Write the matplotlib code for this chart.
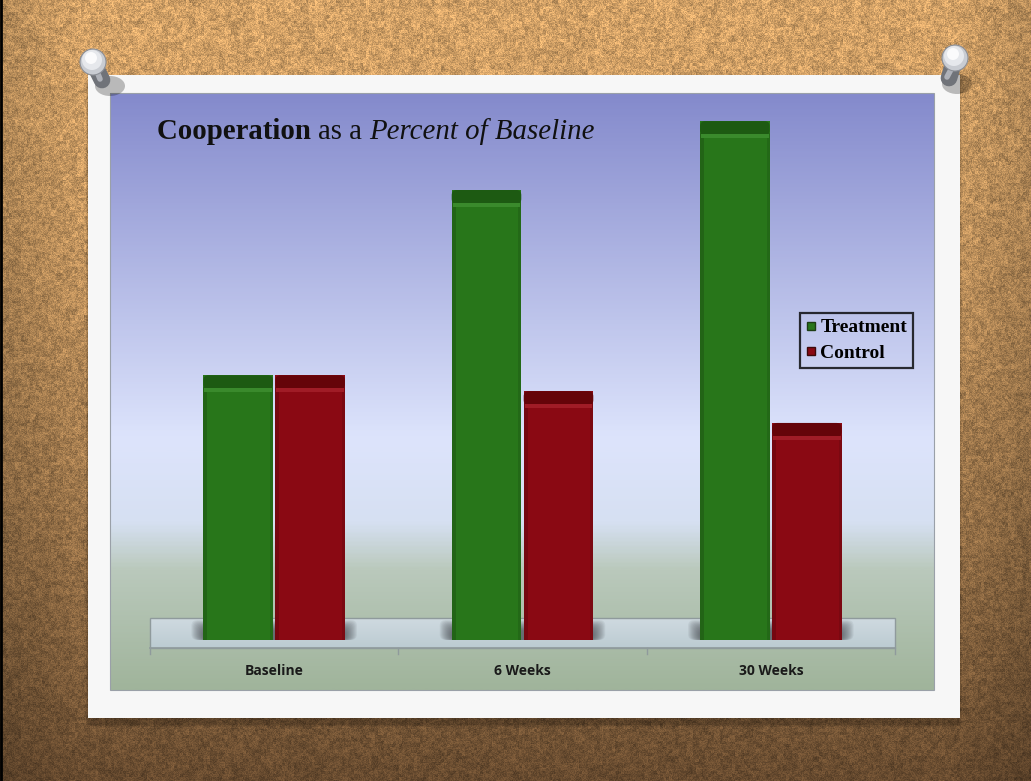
import numpy as np
import matplotlib
matplotlib.use("Agg")
import matplotlib.pyplot as plt
from matplotlib.colors import LinearSegmentedColormap
from matplotlib.patches import Rectangle, Ellipse, Circle, FancyBboxPatch
from matplotlib.lines import Line2D

# data
categories = ["Baseline", "6 Weeks", "30 Weeks"]
treatment = [100, 170, 196]
control = [100, 94, 82]

W, H = 1031, 781
fig = plt.figure(figsize=(W / 100, H / 100), dpi=100)

# background layer in pixel coordinates
bg = fig.add_axes([0, 0, 1, 1])
bg.set_axis_off()

# corkboard: deterministic hash noise, darker toward the bottom
yy, xx = np.mgrid[0:H, 0:W].astype(float)
def hnoise(a, b):
    v = np.sin(a * 12.9898 + b * 78.233) * 43758.5453
    return v - np.floor(v)
n = hnoise(xx, yy)
n2 = hnoise(np.floor(xx / 3), np.floor(yy / 3))
n3 = hnoise(np.floor(xx / 7), np.floor(yy / 7))
tex = 0.45 * n + 0.35 * n2 + 0.2 * n3
t = (yy / H) ** 1.6
top = np.array([215, 165, 105]) / 255
bot = np.array([105, 76, 48]) / 255
base = top[None, None, :] * (1 - t[..., None]) + bot[None, None, :] * t[..., None]
edge = np.minimum(xx / 80, 1) * np.minimum((W - xx) / 80, 1)
shade = 0.85 + 0.15 * edge
cork = base * (0.7 + 0.55 * tex[..., None]) * shade[..., None]
cork = np.clip(cork, 0, 1)
bg.imshow(cork, extent=(0, W, H, 0), origin="upper", aspect="auto", zorder=0)
bg.plot([1, 1], [0, H], color="black", lw=2, zorder=1)

# white frame with a soft shadow
for i, a in enumerate([0.10, 0.08, 0.06]):
    bg.add_patch(Rectangle((88 - 2 + i, 75 + 4 + i), 874, 646, facecolor="black",
                           alpha=a, lw=0, zorder=1))
bg.add_patch(Rectangle((88, 75), 872, 643, facecolor="#f7f7f7", lw=0, zorder=2))

# chart area gradient
stops = [(0.0, (132/255, 138/255, 204/255)),
         (0.58, (221/255, 228/255, 252/255)),
         (0.72, (214/255, 224/255, 242/255)),
         (0.80, (186/255, 201/255, 188/255)),
         (1.0, (160/255, 180/255, 155/255))]
cmap = LinearSegmentedColormap.from_list("chartbg", stops)
grad = np.linspace(0, 1, 400)[:, None]
bg.imshow(grad, cmap=cmap, extent=(110, 934, 690, 93), origin="upper",
          aspect="auto", zorder=3)
bg.add_patch(Rectangle((110, 93), 824, 597, facecolor="none", edgecolor="#9aa0a8",
                       lw=0.8, zorder=4))

# floor and axis line
floor = LinearSegmentedColormap.from_list("floor", ["#cfdae0", "#bccbd2"])
bg.imshow(np.linspace(0, 1, 50)[:, None], cmap=floor, extent=(150, 895, 648, 618),
          origin="upper", aspect="auto", zorder=4)
bg.add_patch(Rectangle((150, 618), 745, 30, facecolor="none", edgecolor="#8f9a9c",
                       lw=1.0, zorder=4))
bg.plot([150, 895], [648, 648], color="#8f9a9c", lw=1.2, zorder=5)
for xt in np.linspace(150, 895, len(categories) + 1):
    bg.plot([xt, xt], [648, 654], color="#8f9a9c", lw=1.0, zorder=5)

bg.set_xlim(0, W)
bg.set_ylim(H, 0)

# main chart axes
ax = fig.add_axes([150 / W, (H - 640) / H, 745 / W, 540 / H])
ax.patch.set_alpha(0)
for s in ax.spines.values():
    s.set_visible(False)
ax.set_xlim(-0.5, len(categories) - 0.5)
ax.set_ylim(0, 204)
ax.set_yticks([])

x = np.arange(len(categories))
bw = 0.28
off = 0.145
unit = 204 / 540          # data units per pixel (y)
xpx = 1 / 248             # data units per pixel (x)

# soft blurred shadows under each bar pair
for i in range(len(categories)):
    for k in range(14):
        g = k * xpx
        ax.add_patch(FancyBboxPatch((x[i] - off - bw / 2 - 12 * xpx + g, 0),
                                    2 * off + bw + 24 * xpx - 2 * g, (20 - k * 0.8) * unit,
                                    boxstyle="round,pad=0,rounding_size=%f" % (6 * xpx),
                                    mutation_aspect=unit / xpx,
                                    facecolor="#3a3d42", alpha=0.07, lw=0, zorder=1))

green, green_cap, green_hi = "#28761a", "#1d5a12", "#3a8a2c"
red, red_cap, red_hi = "#8a0913", "#650409", "#a01c26"

def draw_bars(xs, vals, main, cap, hi, label):
    ax.bar(xs, vals, width=bw, color=main, edgecolor="none", zorder=2, label=label)
    for xi, v in zip(xs, vals):
        ax.bar(xi - bw / 2 + 2 * xpx, v - 12 * unit, width=4 * xpx, color="black",
               alpha=0.15, edgecolor="none", zorder=3)
        ax.bar(xi + bw / 2 - 1.5 * xpx, v - 12 * unit, width=3 * xpx, color="black",
               alpha=0.10, edgecolor="none", zorder=3)
        ax.add_patch(FancyBboxPatch((xi - bw / 2, v - 14 * unit), bw, 14 * unit,
                                    boxstyle="round,pad=0,rounding_size=%f" % (5 * xpx),
                                    mutation_aspect=unit / xpx,
                                    facecolor=cap, edgecolor="none", zorder=3))
        ax.bar(xi, 4 * unit, bottom=v - 17 * unit, width=bw - 2 * xpx, color=hi,
               edgecolor="none", zorder=3)

draw_bars(x - off, treatment, green, green_cap, green_hi, "Treatment")
draw_bars(x + off, control, red, red_cap, red_hi, "Control")

ax.set_xticks(x)
ax.set_xticklabels(categories, fontfamily="Open Sans", fontweight="bold",
                   fontsize=10, color="#1a1a1a")
ax.tick_params(axis="x", length=0, pad=17)

# legend
handles = [Line2D([], [], marker="s", ls="none", markersize=6, markerfacecolor=green,
                  markeredgecolor="#1d3d14", label="Treatment"),
           Line2D([], [], marker="s", ls="none", markersize=6, markerfacecolor=red,
                  markeredgecolor="#3d0a0a", label="Control")]
leg = fig.legend(handles=handles, loc="upper left",
                 bbox_to_anchor=(800 / W, 1 - 313 / H),
                 prop={"family": "Liberation Serif", "weight": "bold", "size": 14},
                 frameon=True, fancybox=False, edgecolor="black", facecolor="none",
                 handlelength=0.55, handletextpad=0.2, borderpad=0.3, labelspacing=0.4,
                 borderaxespad=0)
leg.get_frame().set_linewidth(1.6)

# title in three styles
renderer = fig.canvas.get_renderer()
tx, ty = 157 / W, 1 - 139 / H
parts = [("Cooperation ", "bold", "normal"), ("as a ", "normal", "normal"),
         ("Percent of Baseline", "normal", "italic")]
for txt, wt, st in parts:
    tt = fig.text(tx, ty, txt, fontfamily="Liberation Serif", fontsize=20.8,
                  fontweight=wt, fontstyle=st, color="#111111", va="baseline")
    bb = tt.get_window_extent(renderer=renderer)
    tx += bb.width / W

# pushpins on top
top_ax = fig.add_axes([0, 0, 1, 1])
top_ax.set_axis_off()
top_ax.patch.set_alpha(0)
for (cx, cy, bx, by) in [(93, 62, 102, 80), (955, 58, 949, 78)]:
    top_ax.add_patch(Ellipse((bx + 8, by + 6), 30, 20, facecolor="black", alpha=0.25,
                             lw=0, zorder=1))
    top_ax.plot([cx, bx], [cy, by], color="#707379", lw=12, solid_capstyle="round", zorder=2)
    top_ax.plot([cx + 1, bx - 2], [cy + 2, by - 1], color="#aeb1b8", lw=4,
                solid_capstyle="round", zorder=2)
    top_ax.add_patch(Circle((cx, cy), 13, facecolor="#c9ccd2", edgecolor="#8c8f96",
                            lw=0.8, zorder=3))
    top_ax.add_patch(Circle((cx - 1, cy - 2), 10, facecolor="#e6e8ec", lw=0, zorder=3))
    top_ax.add_patch(Circle((cx - 2, cy - 4), 6, facecolor="#fbfbfc", lw=0, zorder=3))
top_ax.set_xlim(0, W)
top_ax.set_ylim(H, 0)

fig.savefig("out.png", dpi=100)
